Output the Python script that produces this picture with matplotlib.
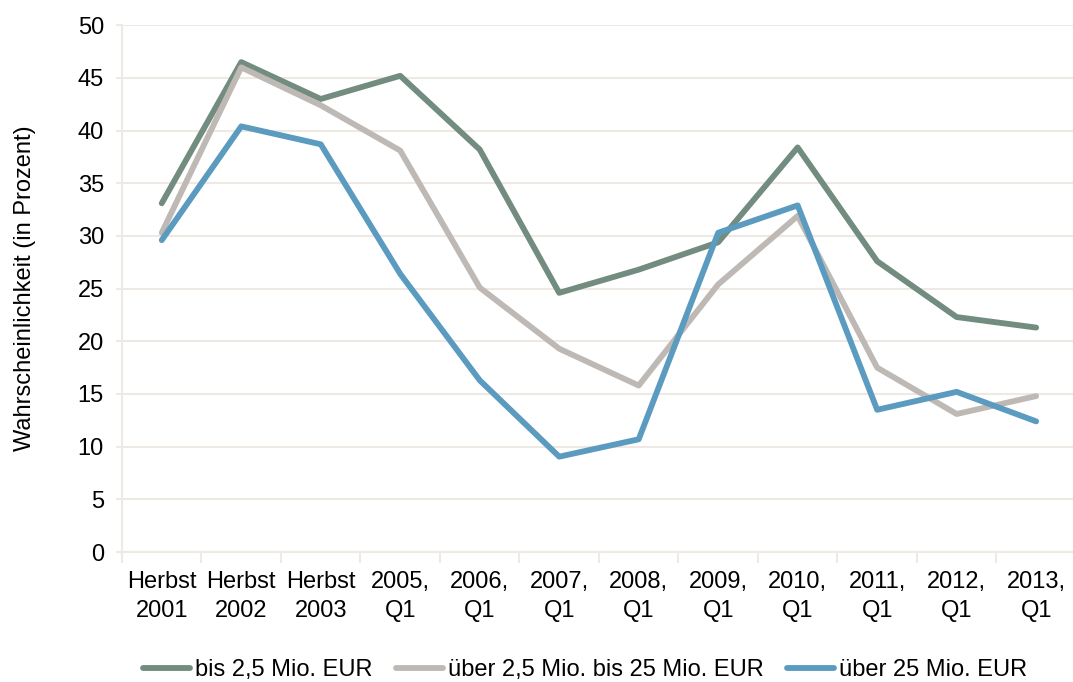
import matplotlib.pyplot as plt
from matplotlib.ticker import MultipleLocator, FixedLocator

plt.rcParams['font.family'] = ['Liberation Sans', 'DejaVu Sans']

KATEGORIEN = ['Herbst\n2001', 'Herbst\n2002', 'Herbst\n2003', '2005,\nQ1', '2006,\nQ1',
              '2007,\nQ1', '2008,\nQ1', '2009,\nQ1', '2010,\nQ1', '2011,\nQ1',
              '2012,\nQ1', '2013,\nQ1']
BIS_2_5 = [33.1, 46.5, 43.0, 45.2, 38.2, 24.6, 26.8, 29.4, 38.4, 27.6, 22.3, 21.3]
UEBER_2_5_BIS_25 = [30.3, 46.0, 42.4, 38.1, 25.1, 19.3, 15.8, 25.4, 31.9, 17.5, 13.1, 14.8]
UEBER_25 = [29.6, 40.4, 38.7, 26.4, 16.3, 9.05, 10.7, 30.3, 32.9, 13.5, 15.2, 12.4]
SERIEN_NAMEN = ['bis 2,5 Mio. EUR', 'über 2,5 Mio. bis 25 Mio. EUR', 'über 25 Mio. EUR']
FARBEN = ['#728C7F', '#BEB9B4', '#5B9BC0']
GITTER = '#EEE9E5'
SCHRIFT = 17


def zeichne_diagramm():
    fig = plt.figure(figsize=(10.73, 6.82), dpi=100)
    ax = fig.add_axes([0.1137, 0.1906, 0.889, 0.7724])

    x = list(range(len(KATEGORIEN)))
    for werte, name, farbe in zip([BIS_2_5, UEBER_2_5_BIS_25, UEBER_25], SERIEN_NAMEN, FARBEN):
        ax.plot(x, werte, color=farbe, lw=4.2, label=name, solid_capstyle='round')

    ax.set_xlim(-0.5, len(KATEGORIEN) - 0.5)
    ax.set_ylim(0, 50)
    ax.yaxis.set_major_locator(MultipleLocator(5))
    ax.grid(axis='y', color=GITTER, lw=1.5)
    ax.set_axisbelow(True)

    ax.set_xticks(x)
    ax.set_xticklabels(KATEGORIEN, fontsize=SCHRIFT, linespacing=1.4)
    ax.xaxis.set_minor_locator(FixedLocator([i + 0.5 for i in range(-1, len(KATEGORIEN))]))
    ax.tick_params(axis='x', which='major', length=0, pad=14)
    ax.tick_params(axis='x', which='minor', length=8, color=GITTER, width=1.5)
    ax.tick_params(axis='y', length=4, color=GITTER, width=1.5, labelsize=SCHRIFT, pad=9)

    for seite in ['top', 'right']:
        ax.spines[seite].set_visible(False)
    for seite in ['left', 'bottom']:
        ax.spines[seite].set_color(GITTER)
        ax.spines[seite].set_linewidth(1.5)

    ax.set_ylabel('Wahrscheinlichkeit (in Prozent)', fontsize=SCHRIFT, labelpad=30)

    fig.legend(loc='center', bbox_to_anchor=(0.545, 0.017), ncol=3, frameon=False,
               fontsize=SCHRIFT, handlelength=2.0, handletextpad=0.2, columnspacing=1.0)

    fig.savefig('out.png', dpi=100)


if __name__ == '__main__':
    zeichne_diagramm()
